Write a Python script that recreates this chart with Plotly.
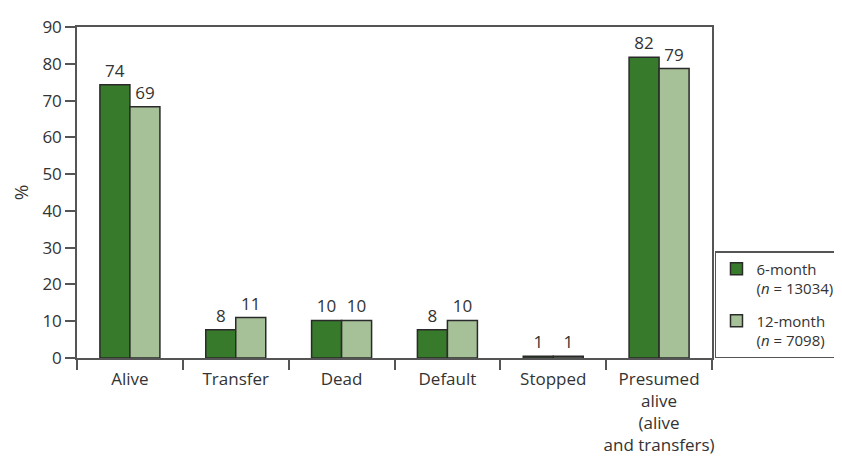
import plotly.graph_objects as go

categories = ["Alive", "Transfer", "Dead", "Default", "Stopped",
              "Presumed<br>alive<br>(alive<br>and transfers)"]
six_month = [74.3, 7.7, 10.2, 7.7, 0.5, 81.8]
twelve_month = [68.3, 11.0, 10.2, 10.2, 0.5, 78.7]
six_labels = ["74", "8", "10", "8", "1", "82"]
twelve_labels = ["69", "11", "10", "10", "1", "79"]
y_ticks = [0, 10, 20, 30, 40, 50, 60, 70, 80, 90]

FONT = "Open Sans"
TXT = "#333333"
LINE = "#555555"
FS = 17

fig = go.Figure()
fig.add_trace(go.Bar(
    x=categories, y=six_month, name="6-month<br>(<i>n</i> = 13034)",
    legendgroup="a",
    marker=dict(color="#387a2c", line=dict(color="#2a2a2a", width=1.5)),
    text=six_labels, textposition="outside", cliponaxis=False,
    textfont=dict(family=FONT, size=FS, color=TXT),
))
fig.add_trace(go.Bar(
    x=categories, y=twelve_month, name="12-month<br>(<i>n</i> = 7098)",
    legendgroup="b",
    marker=dict(color="#a6c198", line=dict(color="#2a2a2a", width=1.5)),
    text=twelve_labels, textposition="outside", cliponaxis=False,
    textfont=dict(family=FONT, size=FS, color=TXT),
))

fig.update_layout(
    width=842, height=457,
    margin=dict(l=69, r=138, t=19, b=107, autoexpand=False),
    paper_bgcolor="white", plot_bgcolor="white",
    font=dict(family=FONT, size=FS, color=TXT),
    barmode="group", bargap=0.433, bargroupgap=0,
    showlegend=True,
    legend=dict(
        x=1.0047, y=0, xanchor="left", yanchor="bottom",
        bgcolor="white", bordercolor=LINE, borderwidth=1.5,
        font=dict(family=FONT, size=15, color=TXT),
        valign="top", traceorder="grouped", tracegroupgap=10,
    ),
    xaxis=dict(
        type="category", showline=True, linecolor=LINE, linewidth=1.5,
        mirror=True, ticks="outside", tickson="boundaries", ticklen=10,
        tickcolor=LINE, tickwidth=1.5, showgrid=False,
        tickangle=0, automargin=False, ticklabelstandoff=5,
        tickfont=dict(family=FONT, size=FS, color=TXT),
    ),
    yaxis=dict(
        range=[0, 90], tickvals=y_ticks, showline=True, linecolor=LINE,
        linewidth=1.5, mirror=True, ticks="outside", ticklen=10,
        tickcolor=LINE, tickwidth=1.5, showgrid=False, zeroline=False,
        automargin=False,
        tickfont=dict(family=FONT, size=FS, color=TXT),
        title=dict(text="%", font=dict(family=FONT, size=19, color=TXT), standoff=9),
    ),
)

fig.write_html("out.html")
